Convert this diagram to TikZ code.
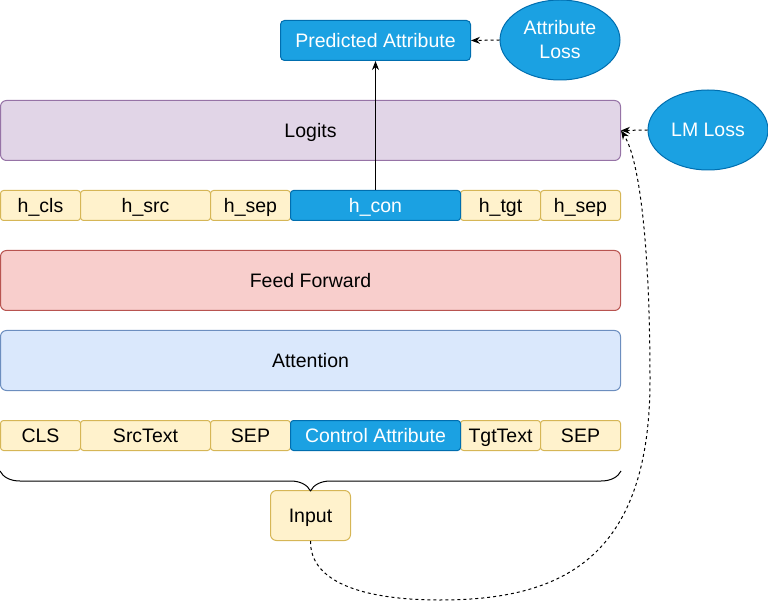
\documentclass[tikz,border=0pt]{standalone}
\usepackage{fontspec}
\setmainfont{Liberation Sans}
\usepackage{tikz}
\usetikzlibrary{arrows.meta,decorations.pathreplacing,shapes.geometric}
\definecolor{tfKey}{HTML}{1BA1E2}
\definecolor{tfKeyLine}{HTML}{006EAF}
\definecolor{tfToken}{HTML}{FFF2CC}
\definecolor{tfTokenLine}{HTML}{D6B656}
\definecolor{tfLogit}{HTML}{E1D5E7}
\definecolor{tfLogitLine}{HTML}{9673A6}
\definecolor{tfFeed}{HTML}{F8CECC}
\definecolor{tfFeedLine}{HTML}{B85450}
\definecolor{tfAttn}{HTML}{DAE8FC}
\definecolor{tfAttnLine}{HTML}{6C8EBF}
\tikzset{
  tf diagram/.style={x=1pt, y=-1pt, font=\fontsize{19.5}{24}\selectfont,
    line join=round},
  tf box/.style={draw, line width=1pt, anchor=north west, inner sep=0pt,
    align=center, text height=17pt, text depth=2.5pt},
  tf token/.style={tf box, draw=tfTokenLine, fill=tfToken,
    minimum height=30pt, rounded corners=3pt},
  tf key token/.style={tf token, draw=tfKeyLine, fill=tfKey, text=white},
  tf layer/.style={tf box, minimum width=620pt, minimum height=60pt,
    rounded corners=6pt},
  tf loss/.style={ellipse, draw=tfKeyLine, fill=tfKey, text=white,
    line width=1pt, minimum width=120pt, minimum height=80pt,
    inner sep=0pt, align=center},
  tf arrow/.style={-{Stealth[length=9pt,width=7pt]}, line width=1pt},
  tf feedback/.style={tf arrow, dashed},
  tf brace/.style={decorate, decoration={brace, amplitude=20pt},
    line width=1pt}
}
\begin{document}
\begin{tikzpicture}[tf diagram]
\useasboundingbox (0,0) rectangle (768,601);
% output side
\node[tf key token, minimum width=190pt, minimum height=40pt, rounded corners=4pt] (pred) at (280,20) {Predicted Attribute};
\node[tf loss] (attrloss) at (560,40) {Attribute\\Loss};
\node[tf layer, draw=tfLogitLine, fill=tfLogit] (logits) at (0,100) {Logits};
\node[tf loss] (lmloss) at (708,130) {LM Loss};
% hidden states
\foreach \id/\x/\w/\word in {hcls/0/80/h\_cls, hsrc/80/130/h\_src, hsep/210/80/h\_sep, htgt/460/80/h\_tgt, hsepb/540/80/h\_sep}{
  \node[tf token, minimum width=\w pt] (\id) at (\x,190) {\word};
}
\node[tf key token, minimum width=170pt] (hcon) at (290,190) {h\_con};
% layers
\node[tf layer, draw=tfFeedLine, fill=tfFeed] (feed) at (0,250) {Feed Forward};
\node[tf layer, draw=tfAttnLine, fill=tfAttn] (attn) at (0,330) {Attention};
% input tokens
\foreach \id/\x/\w/\word in {cls/0/80/CLS, src/80/130/SrcText, sep/210/80/SEP, tgt/460/80/TgtText, sepb/540/80/SEP}{
  \node[tf token, minimum width=\w pt] (\id) at (\x,420) {\word};
}
\node[tf key token, minimum width=170pt] (ctrl) at (290,420) {Control Attribute};
\node[tf token, minimum width=80pt, minimum height=50pt, rounded corners=6pt] (input) at (270,490) {Input};
\draw[tf brace] ([yshift=-20pt]sepb.south east) -- ([yshift=-20pt]cls.south west);
% connectors
\draw[tf arrow] (hcon.north) -- (pred.south);
\draw[tf feedback] (attrloss.west) -- (pred.east);
\draw[tf feedback] (lmloss.west) -- (logits.east);
\coordinate (loopbottom) at (440,600);
\coordinate (loopside) at (650,380);
\draw[tf feedback] (input.south) .. controls (310,585) and (370,600) .. (loopbottom)
  .. controls (560,600) and (650,560) .. (loopside)
  .. controls (650,250) and (640,160) .. (logits.east);
\end{tikzpicture}
\end{document}
